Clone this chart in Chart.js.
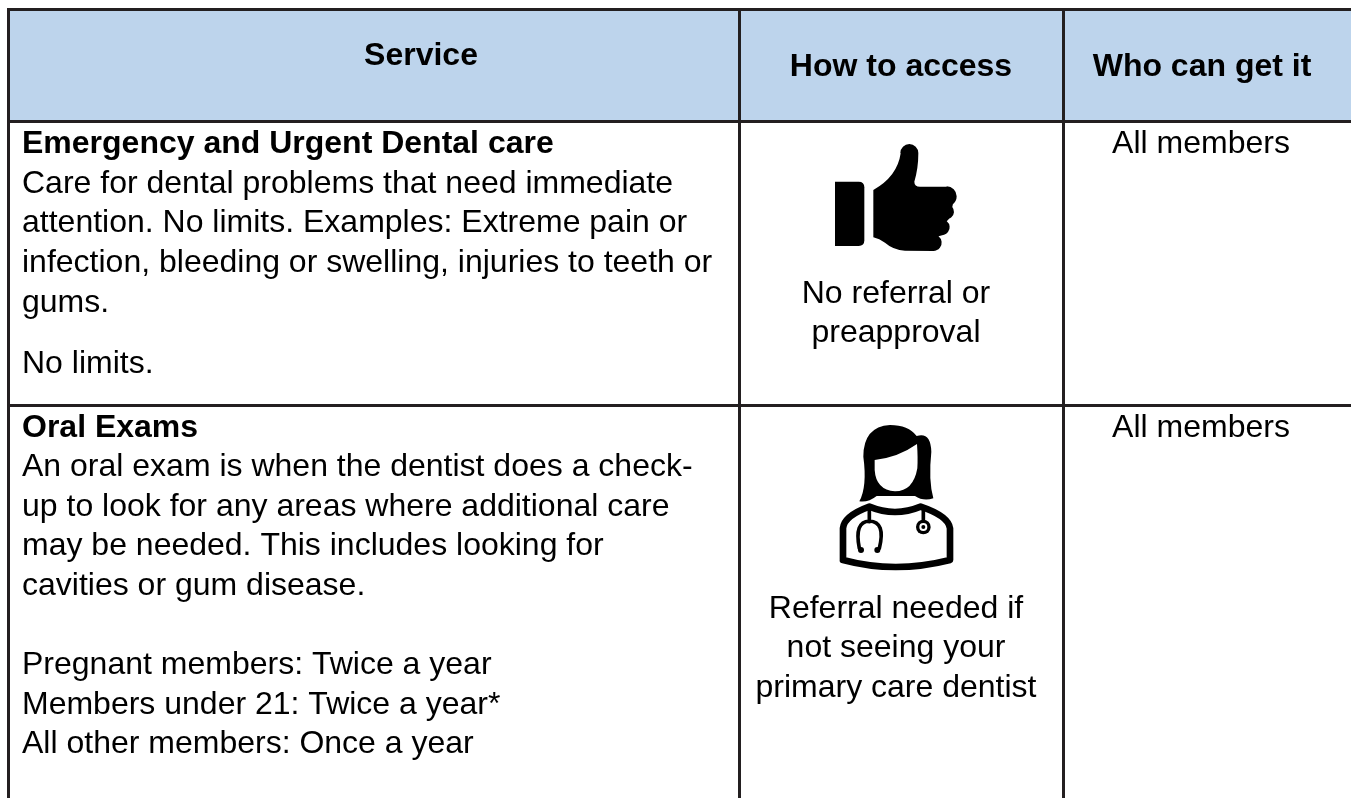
<!DOCTYPE html>
<html>
<head>
<meta charset="utf-8">
<title>Dental services</title>
<script src="https://cdn.jsdelivr.net/npm/chart.js@4"></script>
<style>
    html, body { margin: 0; padding: 0; background: #fff; overflow: hidden; }
    #wrap { width: 1351px; height: 798px; }
</style>
</head>
<body>
<div id="wrap"><canvas id="table"></canvas></div>
<script>
'use strict';

// Table content
const headers = ['Service', 'How to access', 'Who can get it'];
const row1Title = 'Emergency and Urgent Dental care';
const row1Body = [
    'Care for dental problems that need immediate',
    'attention. No limits. Examples: Extreme pain or',
    'infection, bleeding or swelling, injuries to teeth or',
    'gums.',
];
const row1Note = ['No limits.'];
const row1Access = ['No referral or', 'preapproval'];
const row2Title = 'Oral Exams';
const row2Body = [
    'An oral exam is when the dentist does a check-',
    'up to look for any areas where additional care',
    'may be needed. This includes looking for',
    'cavities or gum disease.',
];
const row2Note = [
    'Pregnant members: Twice a year',
    'Members under 21: Twice a year*',
    'All other members: Once a year',
];
const row2Access = ['Referral needed if', 'not seeing your', 'primary care dentist'];
const whoCanGet = ['All members', 'All members'];

// Table grid, in the pixel units of the two axes
const columnEdges = [8.5, 739.5, 1063.5, 1351];
const rowEdges = [9.5, 121.5, 405.5, 798];

const lineColor = '#231f20';
const headerFill = '#bdd4ec';
const fontFamily = '"Liberation Sans", Arial, sans-serif';
const lineStep = 39.7;

// Text is written from the scales, so it sits on the same axes as the grid
const tablePlugin = {
    id: 'tableText',
    afterDatasetsDraw(chart) {
        const { ctx, scales } = chart;
        const x = scales.x;
        const y = scales.y;

        function write(lines, px, firstBaseline, align, font) {
            ctx.font = font;
            ctx.textAlign = align;
            ctx.textBaseline = 'alphabetic';
            ctx.fillStyle = '#000';
            lines.forEach((line, i) => {
                ctx.fillText(
                    line,
                    x.getPixelForValue(px),
                    y.getPixelForValue(firstBaseline + i * lineStep)
                );
            });
        }

        const bold = 'bold 32px ' + fontFamily;
        const normal = '32px ' + fontFamily;

        ctx.save();
        write([headers[0]], 421, 65, 'center', bold);
        write([headers[1]], 901, 76, 'center', bold);
        write([headers[2]], 1202, 76, 'center', bold);

        write([row1Title], 22, 152.7, 'left', bold);
        write(row1Body, 22, 192.7, 'left', normal);
        write(row1Note, 22, 372.7, 'left', normal);
        write(row1Access, 896, 302.5, 'center', normal);
        write([whoCanGet[0]], 1201, 152.7, 'center', normal);

        write([row2Title], 22, 436.7, 'left', bold);
        write(row2Body, 22, 476, 'left', normal);
        write(row2Note, 22, 674, 'left', normal);
        write(row2Access, 896, 617.5, 'center', normal);
        write([whoCanGet[1]], 1201, 436.7, 'center', normal);

        drawThumb(ctx, x.getPixelForValue(780), y.getPixelForValue(130));
        drawDoctor(ctx, x.getPixelForValue(780), y.getPixelForValue(410));
        ctx.restore();
    },
};

// Icons are traced at 3x, relative to a corner placed through the scales
function drawThumb(ctx, left, top) {
    ctx.save();
    ctx.translate(left, top);
    ctx.scale(1 / 3, 1 / 3);
    ctx.fillStyle = '#000';
    ctx.beginPath();
    ctx.moveTo(165, 155);
    ctx.lineTo(236, 155);
    ctx.quadraticCurveTo(253, 155, 253, 172);
    ctx.lineTo(253, 331);
    ctx.quadraticCurveTo(253, 348, 236, 348);
    ctx.lineTo(165, 348);
    ctx.closePath();
    ctx.fill();

    ctx.beginPath();
    ctx.moveTo(280, 180);
    ctx.quadraticCurveTo(352, 140, 362, 70);
    ctx.arc(388, 69, 27, Math.PI, 0);
    ctx.quadraticCurveTo(415, 115, 403, 155);
    ctx.quadraticCurveTo(403, 170, 420, 170);
    ctx.lineTo(500, 170);
    ctx.arc(500, 199, 30, -Math.PI / 2, 0.9);
    ctx.arc(500, 245, 22, -0.7, 1.2);
    ctx.arc(486, 292, 23, -0.9, 1.3);
    ctx.arc(460, 338, 25, -0.9, Math.PI / 2);
    ctx.lineTo(375, 362);
    ctx.quadraticCurveTo(340, 360, 315, 338);
    ctx.quadraticCurveTo(298, 326, 280, 322);
    ctx.closePath();
    ctx.fill();
    ctx.restore();
}

function drawDoctor(ctx, left, top) {
    ctx.save();
    ctx.translate(left, top);
    ctx.scale(1 / 3, 1 / 3);
    ctx.fillStyle = '#000';
    ctx.strokeStyle = '#000';
    ctx.lineCap = 'round';
    ctx.lineJoin = 'round';

    // hair
    ctx.beginPath();
    ctx.moveTo(238, 274);
    ctx.quadraticCurveTo(262, 230, 250, 140);
    ctx.quadraticCurveTo(250, 50, 330, 45);
    ctx.quadraticCurveTo(385, 45, 410, 78);
    ctx.quadraticCurveTo(452, 65, 454, 125);
    ctx.quadraticCurveTo(445, 210, 460, 265);
    ctx.quadraticCurveTo(430, 275, 405, 258);
    ctx.lineTo(290, 258);
    ctx.quadraticCurveTo(265, 278, 238, 274);
    ctx.closePath();
    ctx.fill();

    // face
    ctx.fillStyle = '#fff';
    ctx.beginPath();
    ctx.moveTo(284, 150);
    ctx.quadraticCurveTo(355, 142, 411, 102);
    ctx.quadraticCurveTo(414, 145, 412, 175);
    ctx.quadraticCurveTo(400, 244, 345, 244);
    ctx.quadraticCurveTo(288, 240, 284, 180);
    ctx.closePath();
    ctx.fill();

    // shoulders and collar
    ctx.lineWidth = 20;
    ctx.beginPath();
    ctx.moveTo(189, 450);
    ctx.lineTo(189, 355);
    ctx.quadraticCurveTo(192, 318, 268, 290);
    ctx.quadraticCurveTo(345, 322, 422, 290);
    ctx.quadraticCurveTo(505, 318, 510, 355);
    ctx.lineTo(510, 450);
    ctx.quadraticCurveTo(345, 492, 189, 450);
    ctx.stroke();

    // white strip between the hair and the collar
    ctx.fillStyle = '#fff';
    ctx.beginPath();
    ctx.moveTo(312, 264);
    ctx.quadraticCurveTo(350, 276, 388, 264);
    ctx.lineTo(388, 279);
    ctx.quadraticCurveTo(350, 292, 312, 279);
    ctx.closePath();
    ctx.fill();

    // stethoscope
    ctx.lineWidth = 11;
    ctx.beginPath();
    ctx.moveTo(268, 295);
    ctx.lineTo(268, 335);
    ctx.moveTo(238, 415);
    ctx.quadraticCurveTo(222, 335, 268, 333);
    ctx.quadraticCurveTo(318, 335, 298, 415);
    ctx.moveTo(430, 295);
    ctx.lineTo(430, 335);
    ctx.stroke();
    ctx.fillStyle = '#000';
    [[243, 420, 9], [292, 420, 9], [430, 351, 22]].forEach(([cx, cy, r]) => {
        ctx.beginPath();
        ctx.arc(cx, cy, r, 0, Math.PI * 2);
        ctx.fill();
    });
    ctx.fillStyle = '#fff';
    ctx.beginPath();
    ctx.arc(430, 351, 12, 0, Math.PI * 2);
    ctx.fill();
    ctx.fillStyle = '#000';
    ctx.beginPath();
    ctx.arc(430, 351, 6, 0, Math.PI * 2);
    ctx.fill();
    ctx.restore();
}

// One dataset for each rule of the grid
function ruleDataset(points) {
    return {
        type: 'line',
        data: points,
        borderColor: lineColor,
        borderWidth: 3,
        borderCapStyle: 'square',
        pointRadius: 0,
        order: 0,
    };
}

const rules = [];
rowEdges.slice(0, 3).forEach((edge) => {
    rules.push(ruleDataset([{ x: columnEdges[0], y: edge }, { x: columnEdges[3], y: edge }]));
});
columnEdges.slice(0, 3).forEach((edge) => {
    rules.push(ruleDataset([{ x: edge, y: rowEdges[0] }, { x: edge, y: rowEdges[3] }]));
});

new Chart(document.getElementById('table'), {
    type: 'bar',
    plugins: [tablePlugin],
    data: {
        datasets: [
            {
                // header band as one floating horizontal bar
                data: [{ x: [columnEdges[0], columnEdges[3]], y: (rowEdges[0] + rowEdges[1]) / 2 }],
                backgroundColor: headerFill,
                barThickness: rowEdges[1] - rowEdges[0],
                order: 1,
            },
            ...rules,
        ],
    },
    options: {
        indexAxis: 'y',
        responsive: true,
        maintainAspectRatio: false,
        animation: false,
        layout: { padding: 0 },
        scales: {
            x: { type: 'linear', min: 0, max: 1351, display: false },
            y: { type: 'linear', min: 0, max: 798, reverse: true, offset: false, display: false },
        },
        plugins: {
            legend: { display: false },
            tooltip: { enabled: false },
        },
    },
});
</script>
</body>
</html>
